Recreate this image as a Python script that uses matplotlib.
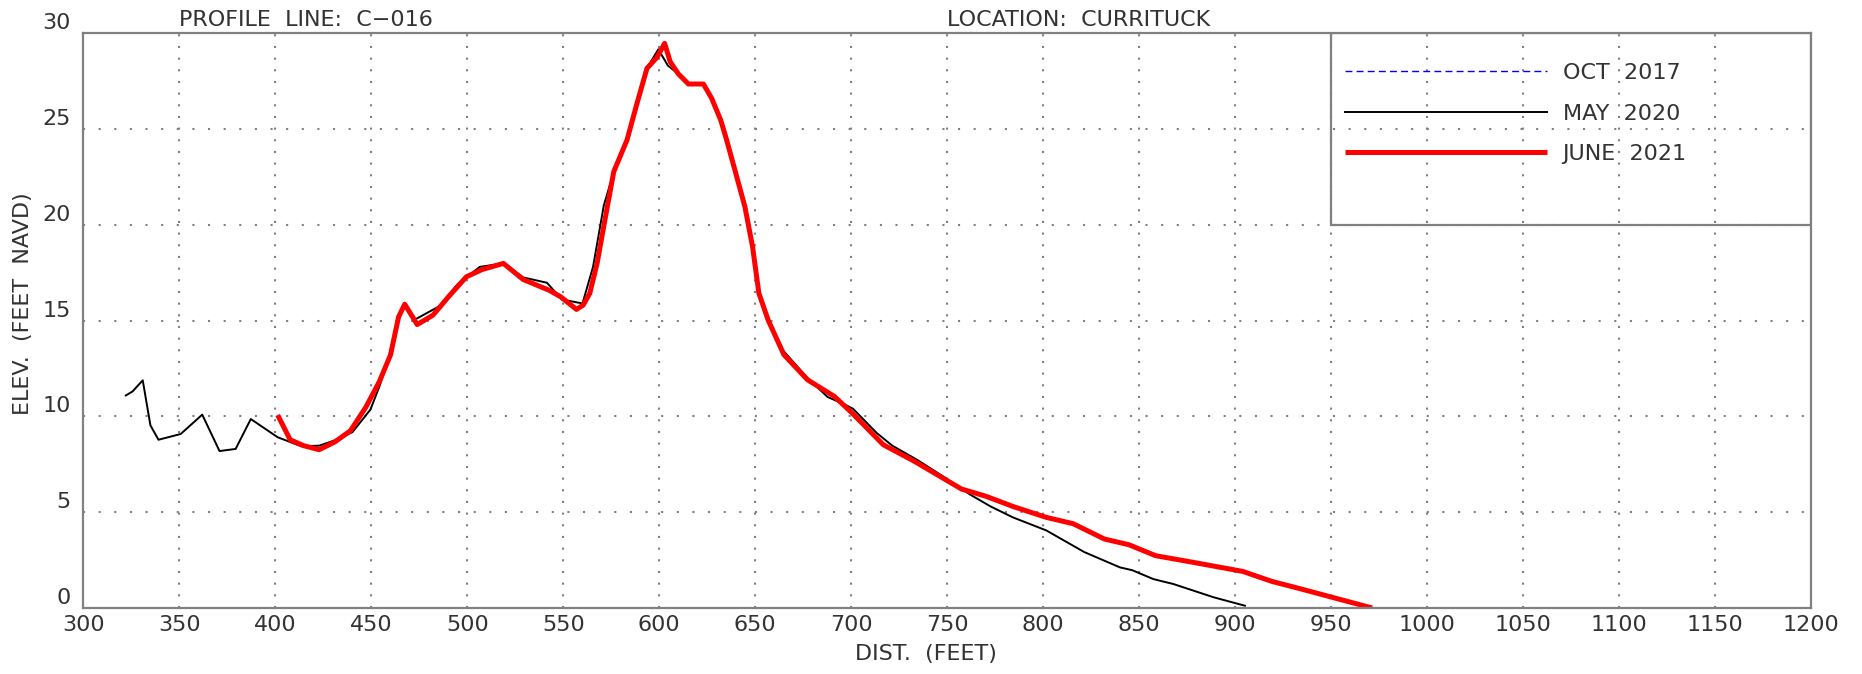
import matplotlib
matplotlib.use('Agg')
import matplotlib.pyplot as plt
from matplotlib.patches import Rectangle

# Survey data (distance ft, elevation ft NAVD)
may2020_dist = [322.1, 325.6, 330.9, 334.9, 339.1, 350.7, 361.9, 370.9, 379.3, 387.2,
                401.2, 413.5, 422.8, 431.0, 440.2, 449.5, 454.2, 459.0, 462.5, 467.4,
                472.7, 485.5, 495.0, 506.5, 518.8, 529.1, 541.5, 549.2, 560.0, 565.5,
                571.1, 577.0, 583.2, 588.4, 593.6, 599.5, 604.5, 610.0, 615.2, 623.0,
                627.3, 632.0, 635.1, 639.4, 644.6, 648.6, 651.9, 656.7, 664.9, 677.2,
                687.7, 695.8, 700.9, 713.3, 721.4, 734.2, 747.0, 762.1, 772.6, 784.2,
                801.6, 821.4, 840.0, 846.5, 857.4, 867.9, 888.8, 905.1]
may2020_elev = [11.09, 11.30, 11.88, 9.53, 8.78, 9.08, 10.09, 8.19, 8.30, 9.86,
                8.91, 8.44, 8.47, 8.75, 9.18, 10.35, 11.56, 13.00, 14.60, 15.85,
                15.05, 15.75, 16.90, 17.80, 17.98, 17.25, 16.97, 16.10, 15.89, 17.80,
                21.00, 23.00, 24.50, 26.33, 28.16, 29.15, 28.30, 27.86, 27.34, 27.34,
                26.59, 25.46, 24.42, 22.85, 20.94, 18.85, 16.42, 15.03, 13.39, 12.00,
                11.01, 10.66, 10.40, 9.13, 8.47, 7.74, 6.92, 5.91, 5.30, 4.73,
                4.05, 2.92, 2.12, 1.97, 1.51, 1.25, 0.56, 0.12]

june2021_dist = [401.2, 407.7, 414.7, 422.8, 430.9, 439.1, 447.2, 454.2, 460.0, 464.2,
                 467.4, 473.9, 482.1, 490.2, 499.5, 507.7, 518.8, 529.1, 542.6, 548.6,
                 556.9, 560.4, 563.8, 567.6, 572.0, 576.3, 583.2, 588.4, 593.6, 598.8,
                 602.8, 605.7, 610.0, 615.2, 623.0, 627.3, 632.0, 635.1, 639.4, 644.6,
                 648.6, 651.9, 656.7, 664.9, 677.2, 691.2, 700.5, 716.7, 733.0, 757.4,
                 770.2, 784.2, 801.6, 815.6, 831.9, 844.7, 858.6, 877.2, 904.0, 919.1,
                 933.0, 971.4]
june2021_elev = [10.07, 8.78, 8.47, 8.26, 8.66, 9.25, 10.49, 11.82, 13.21, 15.19,
                 15.85, 14.79, 15.28, 16.24, 17.28, 17.66, 17.98, 17.14, 16.58, 16.24,
                 15.58, 15.81, 16.42, 17.98, 20.42, 22.77, 24.42, 26.33, 28.16, 28.73,
                 29.46, 28.50, 27.86, 27.34, 27.34, 26.59, 25.46, 24.42, 22.85, 20.94,
                 18.85, 16.42, 15.03, 13.22, 11.91, 11.04, 10.17, 8.52, 7.65, 6.21,
                 5.83, 5.30, 4.73, 4.40, 3.60, 3.30, 2.73, 2.40, 1.91, 1.39,
                 1.03, 0.00]

x_ticks = list(range(300, 1201, 50))
y_ticks = list(range(0, 31, 5))

TEXT_COLOR = '#333333'
FRAME_COLOR = '#808080'
FS = 16

plt.rcParams['font.family'] = ['DejaVu Sans']
plt.rcParams['font.size'] = FS

fig = plt.figure(figsize=(18.62, 6.74), dpi=100)
ax = fig.add_axes([0.0448, 0.0979, 0.9278, 0.8531])

# Profiles (OCT 2017 has no points in this window, legend only)
ax.plot([], [], color='blue', lw=1.0, ls=(0, (5, 3)), label='OCT  2017')
ax.plot(may2020_dist, may2020_elev, color='black', lw=1.4, label='MAY  2020')
ax.plot(june2021_dist, june2021_elev, color='red', lw=3.6, label='JUNE  2021',
        solid_capstyle='butt')

ax.set_xlim(300, 1200)
ax.set_ylim(0, 30)
ax.set_xticks(x_ticks)
ax.set_yticks(y_ticks)
ax.tick_params(length=0, colors=TEXT_COLOR, labelsize=FS)
ax.tick_params(axis='x', pad=5)
ax.tick_params(axis='y', pad=9)
for lab in ax.get_yticklabels():
    lab.set_verticalalignment('bottom')

# dotted grid, inner lines only
for xv in x_ticks[1:-1]:
    ax.axvline(xv, color=FRAME_COLOR, lw=1.5, ls=(0, (1, 4.6)), zorder=0)
for yv in y_ticks[1:-1]:
    ax.axhline(yv, color=FRAME_COLOR, lw=1.5, ls=(0, (1, 6.5)), zorder=0)

for sp in ax.spines.values():
    sp.set_color(FRAME_COLOR)
    sp.set_linewidth(1.6)

ax.set_xlabel('DIST.  (FEET)', color=TEXT_COLOR, fontsize=FS)
ax.xaxis.set_label_coords(0.4877, -0.062)
ax.set_ylabel('ELEV.  (FEET  NAVD)', color=TEXT_COLOR, fontsize=FS)
ax.yaxis.set_label_coords(-0.029, 0.53)

ax.text(350, 30.37, 'PROFILE  LINE:  C\u2212016', color=TEXT_COLOR, fontsize=FS,
        ha='left', va='baseline', clip_on=False)
ax.text(750, 30.37, 'LOCATION:  CURRITUCK', color=TEXT_COLOR, fontsize=FS,
        ha='left', va='baseline', clip_on=False)

# legend box sits in the upper right corner of the plot
ax.add_patch(Rectangle((950, 20), 250, 10, fill=False, edgecolor=FRAME_COLOR,
                       lw=1.6, zorder=5))
leg = ax.legend(loc='upper left', bbox_to_anchor=(957.5, 28.43),
                bbox_transform=ax.transData, frameon=False,
                handlelength=9.05, handletextpad=0.72, labelspacing=0.92,
                borderpad=0, borderaxespad=0, fontsize=FS)
for t in leg.get_texts():
    t.set_color(TEXT_COLOR)

fig.savefig('out.png', dpi=100)
